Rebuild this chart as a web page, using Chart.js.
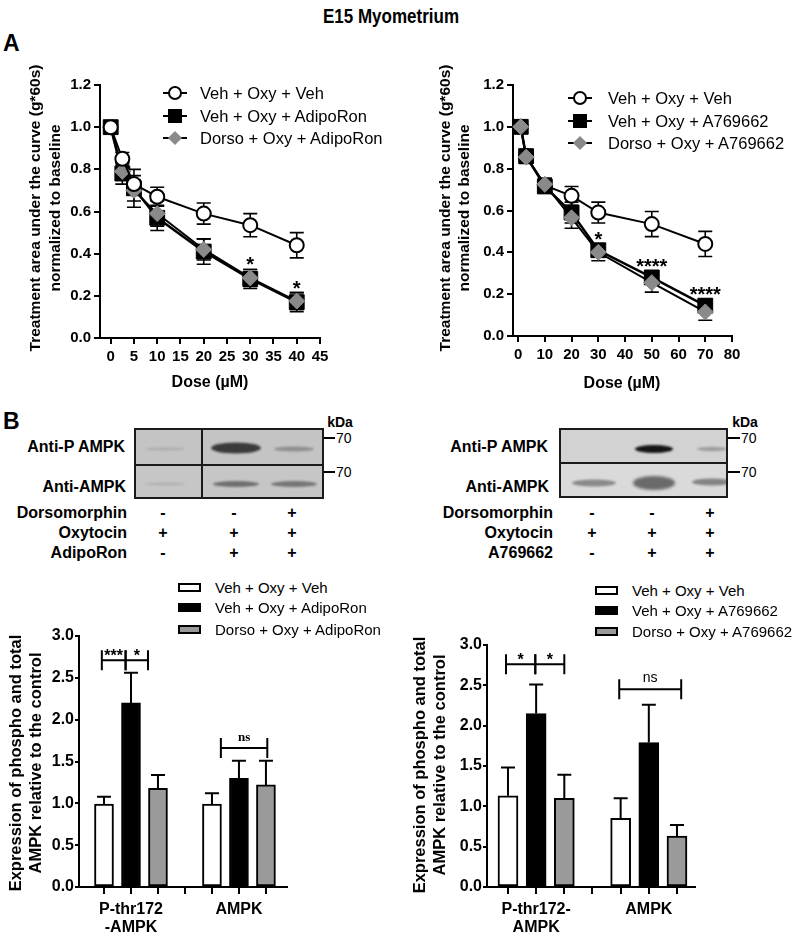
<!DOCTYPE html>
<html><head><meta charset="utf-8">
<script src="https://cdn.jsdelivr.net/npm/chart.js@4.4.1/dist/chart.umd.min.js"></script>
<style>
html,body{margin:0;padding:0;background:#fff;}
#fig{position:relative;width:800px;height:940px;overflow:hidden;font-family:"Liberation Sans",Arial,sans-serif;color:#000;}
.t{position:absolute;white-space:nowrap;line-height:1;}
canvas{position:absolute;}
.blot{position:absolute;box-sizing:border-box;overflow:hidden;border:2px solid #1a1a1a;}
.band{position:absolute;border-radius:50%;transform:translate(-50%,-50%);}
.mk{position:absolute;box-sizing:border-box;}
</style></head><body><div id="fig">
<canvas id="lineAdipo" width="340" height="335" style="left:0px;top:60px"></canvas>
<canvas id="lineA76" width="345" height="335" style="left:400px;top:60px"></canvas>
<canvas id="barAdipo" width="300" height="340" style="left:0px;top:600px"></canvas>
<canvas id="barA76" width="310" height="340" style="left:400px;top:600px"></canvas>
</div>
<script>
// ================= DATA =================
// Panel A left: AdipoRon dose response
const dosesAdipo = [0, 2.5, 5, 10, 20, 30, 40];
const aucVehAdipo = [1.0, 0.85, 0.73, 0.67, 0.59, 0.535, 0.44];
const aucVehAdipoErr = [0, 0.03, 0.04, 0.045, 0.05, 0.055, 0.06];
const aucAdipo = [1.0, 0.78, 0.71, 0.57, 0.41, 0.28, 0.17];
const aucAdipoErr = [0, 0.05, 0.09, 0.06, 0.06, 0.045, 0.045];
const aucDorsoAdipo = [1.0, 0.79, 0.70, 0.59, 0.42, 0.285, 0.175];
const aucDorsoAdipoErr = [0, 0.04, 0.05, 0.06, 0.05, 0.04, 0.04];
const starsAdipo = ['', '', '', '', '', '*', '*'];
const doseTicksAdipo = [0, 5, 10, 15, 20, 25, 30, 35, 40, 45];

// Panel A right: A769662 dose response
const dosesA76 = [1, 3, 10, 20, 30, 50, 70];
const aucVehA76 = [1.0, 0.86, 0.72, 0.67, 0.59, 0.535, 0.44];
const aucVehA76Err = [0, 0.02, 0.03, 0.045, 0.05, 0.06, 0.06];
const aucA76 = [1.0, 0.86, 0.715, 0.59, 0.41, 0.28, 0.145];
const aucA76Err = [0, 0.03, 0.03, 0.05, 0.03, 0.03, 0.03];
const aucDorsoA76 = [1.0, 0.855, 0.725, 0.565, 0.40, 0.255, 0.115];
const aucDorsoA76Err = [0, 0.03, 0.03, 0.05, 0.04, 0.045, 0.04];
const starsA76 = ['', '', '', '', '*', '****', '****'];
const doseTicksA76 = [0, 10, 20, 30, 40, 50, 60, 70, 80];

const aucTicks = [0, 0.2, 0.4, 0.6, 0.8, 1.0, 1.2];

// Panel B bar charts
const groupsAdipo = [['P-thr172', '-AMPK'], ['AMPK']];
const exprVehAdipo = [0.99, 0.99];
const exprVehAdipoErr = [0.09, 0.13];
const exprAdipo = [2.20, 1.30];
const exprAdipoErr = [0.36, 0.21];
const exprDorsoAdipo = [1.18, 1.22];
const exprDorsoAdipoErr = [0.16, 0.29];
const sigAdipo = [
  {from: 0.92, to: 1.80, v: 2.71, label: '***'},
  {from: 1.80, to: 2.63, v: 2.71, label: '*'},
  {from: 5.33, to: 7.05, v: 1.66, label: 'ns'}
];

const groupsA76 = [['P-thr172-', 'AMPK'], ['AMPK']];
const exprVehA76 = [1.13, 0.85];
const exprVehA76Err = [0.35, 0.25];
const exprA76 = [2.15, 1.79];
const exprA76Err = [0.36, 0.47];
const exprDorsoA76 = [1.10, 0.63];
const exprDorsoA76Err = [0.29, 0.14];
const sigA76 = [
  {from: 0.93, to: 1.97, v: 2.76, label: '*'},
  {from: 1.97, to: 3.00, v: 2.76, label: '*'},
  {from: 4.95, to: 7.15, v: 2.45, label: 'ns'}
];
const exprTicks = [0, 0.5, 1.0, 1.5, 2.0, 2.5, 3.0];
const barSlots = [1, 2, 3, 4, 5, 6, 7];

// ================= HTML TEXT =================
const fig = document.getElementById('fig');
function T(x, y, s, o = {}) {
  const d = document.createElement('div');
  d.className = 't';
  d.textContent = s;
  d.style.left = x + 'px';
  d.style.top = y + 'px';
  d.style.fontSize = (o.size || 14) + 'px';
  d.style.fontWeight = o.bold ? 'bold' : 'normal';
  if (o.family) d.style.fontFamily = o.family;
  const ax = o.align === 'right' ? '-100%' : (o.align === 'left' ? '0' : '-50%');
  d.style.transform = `translate(${ax},-50%)` + (o.rot ? ` rotate(${o.rot}deg)` : '') + (o.sx ? ` scaleX(${o.sx})` : '');
  fig.appendChild(d);
  return d;
}
function box(x, y, w, h, css) {
  const d = document.createElement('div');
  d.className = 'mk';
  d.style.left = x + 'px'; d.style.top = y + 'px';
  d.style.width = w + 'px'; d.style.height = h + 'px';
  Object.assign(d.style, css || {});
  fig.appendChild(d);
  return d;
}

T(391, 16, 'E15 Myometrium', {size: 20, bold: true, sx: 0.85});
T(3, 43, 'A', {size: 23, bold: true, align: 'left'});
T(3, 421, 'B', {size: 23, bold: true, align: 'left'});

// axis titles, panel A
T(35, 208, 'Treatment area under the curve (g*60s)', {size: 15.5, bold: true, rot: -90});
T(55, 208, 'normalized to baseline', {size: 15.5, bold: true, rot: -90});
T(445, 208, 'Treatment area under the curve (g*60s)', {size: 15.5, bold: true, rot: -90});
T(464, 208, 'normalized to baseline', {size: 15.5, bold: true, rot: -90});
T(210, 382, 'Dose (µM)', {size: 16, bold: true});
T(622, 383, 'Dose (µM)', {size: 16, bold: true});

// line legends
function lineLegend(cx, y, kind, text, tx) {
  box(cx - 12, y - 1, 24, 2, {background: '#000'});
  if (kind === 'circle') box(cx - 7, y - 7, 14, 14, {background: '#fff', border: '2px solid #000', borderRadius: '50%'});
  if (kind === 'square') box(cx - 7, y - 7, 14, 14, {background: '#000'});
  if (kind === 'diamond') box(cx - 5, y - 5, 10, 10, {background: '#8a8a8a', transform: 'rotate(45deg)'});
  T(tx, y, text, {size: 16.5, align: 'left'});
}
lineLegend(175, 93, 'circle', 'Veh + Oxy + Veh', 200);
lineLegend(175, 116, 'square', 'Veh + Oxy + AdipoRon', 200);
lineLegend(175, 138, 'diamond', 'Dorso + Oxy + AdipoRon', 200);
lineLegend(580, 98, 'circle', 'Veh + Oxy + Veh', 608);
lineLegend(580, 121, 'square', 'Veh + Oxy + A769662', 608);
lineLegend(580, 143, 'diamond', 'Dorso + Oxy + A769662', 608);

// bar legends
function barLegend(x, y, fill, text, tx) {
  box(x, y - 4, 23, 9, {background: fill, border: '2px solid #000'});
  T(tx, y, text, {size: 15, align: 'left'});
}
barLegend(178, 587, '#fff', 'Veh + Oxy + Veh', 215);
barLegend(178, 607, '#000', 'Veh + Oxy + AdipoRon', 215);
barLegend(178, 629, '#9a9a9a', 'Dorso + Oxy + AdipoRon', 215);
barLegend(595, 590, '#fff', 'Veh + Oxy + Veh', 632);
barLegend(595, 610, '#000', 'Veh + Oxy + A769662', 632);
barLegend(595, 631, '#9a9a9a', 'Dorso + Oxy + A769662', 632);

// bar y titles
T(15, 763, 'Expression of phospho and total', {size: 16.5, bold: true, rot: -90});
T(35, 763, 'AMPK relative to the control', {size: 16.5, bold: true, rot: -90});
T(419, 765, 'Expression of phospho and total', {size: 16.5, bold: true, rot: -90});
T(439, 765, 'AMPK relative to the control', {size: 16.5, bold: true, rot: -90});

// ================= WESTERN BLOTS (illustrative images) =================
function blotPanel(x, y, w, h, bg, bands) {
  const p = document.createElement('div');
  p.className = 'blot';
  Object.assign(p.style, {left: x + 'px', top: y + 'px', width: w + 'px', height: h + 'px', background: bg});
  bands.forEach(b => {
    const d = document.createElement('div');
    d.className = 'band';
    Object.assign(d.style, {left: b[0] + 'px', top: b[1] + 'px', width: b[2] + 'px', height: b[3] + 'px', background: b[4], filter: `blur(${b[5] || 1.2}px)`});
    p.appendChild(d);
  });
  fig.appendChild(p);
}
// left blot
blotPanel(134, 428, 190, 38, '#c4c4c4', [[29, 19, 40, 3, '#ababab', 1], [100, 18, 50, 11, '#3a3a3a', 1.3], [158, 19, 40, 5, '#8f8f8f', 1.2]]);
blotPanel(134, 464, 190, 35, '#c6c6c6', [[29, 18, 40, 3, '#b0b0b0', 1], [100, 18, 46, 6, '#6e6e6e', 1.2], [158, 18, 46, 6, '#757575', 1.2]]);
box(201, 428, 2, 71, {background: '#1a1a1a'});
// right blot
blotPanel(559, 428, 169, 36, '#d2d2d2', [[93, 19, 38, 8, '#151515', 1.2], [151, 19, 30, 4, '#9c9c9c', 1.2]]);
blotPanel(559, 462, 169, 36, '#dadada', [[33, 19, 44, 7, '#8a8a8a', 1.3], [93, 19, 42, 14, '#6a6a6a', 1.6], [151, 18, 40, 7, '#848484', 1.3]]);

// blot labels
T(125, 447, 'Anti-P AMPK', {size: 16, bold: true, align: 'right'});
T(126, 487, 'Anti-AMPK', {size: 16, bold: true, align: 'right'});
T(340, 422, 'kDa', {size: 14, bold: true});
box(324, 437, 11, 1.5, {background: '#000'});
box(324, 471, 11, 1.5, {background: '#000'});
T(336, 438, '70', {size: 14, align: 'left'});
T(336, 472, '70', {size: 14, align: 'left'});
T(548, 447, 'Anti-P AMPK', {size: 16, bold: true, align: 'right'});
T(549, 487, 'Anti-AMPK', {size: 16, bold: true, align: 'right'});
T(745, 422, 'kDa', {size: 14, bold: true});
box(728, 437, 12, 1.5, {background: '#000'});
box(728, 471, 12, 1.5, {background: '#000'});
T(741, 438, '70', {size: 14, align: 'left'});
T(741, 472, '70', {size: 14, align: 'left'});

const treatRowsAdipo = [['Dorsomorphin', ['-', '-', '+']], ['Oxytocin', ['+', '+', '+']], ['AdipoRon', ['-', '+', '+']]];
const treatRowsA76 = [['Dorsomorphin', ['-', '-', '+']], ['Oxytocin', ['+', '+', '+']], ['A769662', ['-', '+', '+']]];
const rowY = [513, 533, 553];
treatRowsAdipo.forEach((r, i) => {
  T(127, rowY[i], r[0], {size: 16, bold: true, align: 'right'});
  [163, 234, 292].forEach((x, j) => T(x, rowY[i], r[1][j], {size: 16, bold: true}));
});
treatRowsA76.forEach((r, i) => {
  T(553, rowY[i], r[0], {size: 16, bold: true, align: 'right'});
  [592, 652, 710].forEach((x, j) => T(x, rowY[i], r[1][j], {size: 16, bold: true}));
});

// ================= CHARTS =================
const tickFont = (s) => ({family: '"Liberation Sans", Arial, sans-serif', weight: 'bold', size: s});

const errorBarPlugin = {
  id: 'errbars',
  beforeDatasetsDraw(chart) {
    const ctx = chart.ctx, ys = chart.scales.y;
    ctx.save();
    ctx.strokeStyle = '#000'; ctx.lineWidth = 1.6;
    chart.data.datasets.forEach((ds, di) => {
      const meta = chart.getDatasetMeta(di);
      meta.data.forEach((pt, i) => {
        const v = ds.data[i].y, e = ds.err[i];
        if (!e) return;
        const y1 = ys.getPixelForValue(v - e), y2 = ys.getPixelForValue(v + e);
        ctx.beginPath();
        ctx.moveTo(pt.x, y1); ctx.lineTo(pt.x, y2);
        ctx.moveTo(pt.x - 7, y1); ctx.lineTo(pt.x + 7, y1);
        ctx.moveTo(pt.x - 7, y2); ctx.lineTo(pt.x + 7, y2);
        ctx.stroke();
      });
    });
    ctx.restore();
  }
};

function fixSize(w) { return (s) => { s.width = w; }; }
function fixHeight(h) { return (s) => { s.height = h; }; }

function lineChart(id, doses, series, stars, xTicks, xMin, xMax, geom) {
  const datasets = series.map(s => ({
    data: doses.map((d, i) => ({x: d, y: s.vals[i]})),
    err: s.err,
    showLine: true,
    borderColor: '#000',
    borderWidth: s.lw,
    backgroundColor: s.fill,
    pointBackgroundColor: s.fill,
    pointBorderColor: s.stroke,
    pointBorderWidth: s.pbw,
    pointStyle: s.style,
    pointRadius: s.r,
    pointHoverRadius: s.r,
    order: s.order,
    clip: false
  }));
  return new Chart(document.getElementById(id), {
    type: 'scatter',
    data: {datasets},
    plugins: [errorBarPlugin, {
      id: 'stars',
      afterDatasetsDraw(chart) {
        const ctx = chart.ctx, ys = chart.scales.y, xs = chart.scales.x;
        ctx.save();
        ctx.fillStyle = '#000';
        ctx.font = 'bold 20px "Liberation Sans", Arial, sans-serif';
        ctx.textAlign = 'center'; ctx.textBaseline = 'alphabetic';
        stars.forEach((s, i) => {
          if (!s) return;
          const top = Math.max(series[1].vals[i] + series[1].err[i], series[2].vals[i] + series[2].err[i]);
          const yc = ys.getPixelForValue(top) - 10;
          ctx.fillText(s, xs.getPixelForValue(doses[i]), yc + 12);
        });
        ctx.restore();
      }
    }],
    options: {
      responsive: false, animation: false, devicePixelRatio: 1,
      layout: {padding: {top: geom.top, right: geom.right, left: 0, bottom: 0}},
      plugins: {legend: {display: false}, tooltip: {enabled: false}},
      scales: {
        x: {
          type: 'linear', min: xMin, max: xMax,
          afterBuildTicks: (s) => { s.ticks = xTicks.map(v => ({value: v})); },
          afterFit: fixHeight(geom.xh),
          grid: {display: true, drawOnChartArea: false, drawTicks: true, tickLength: 6, color: '#000', lineWidth: 2},
          border: {display: true, color: '#000', width: 2},
          ticks: {color: '#000', font: tickFont(15), padding: 4, maxRotation: 0, autoSkip: false, callback: v => String(v)}
        },
        y: {
          type: 'linear', min: 0, max: 1.2,
          afterBuildTicks: (s) => { s.ticks = aucTicks.map(v => ({value: v})); },
          afterFit: fixSize(geom.yw),
          grid: {display: true, drawOnChartArea: false, drawTicks: true, tickLength: 6, color: '#000', lineWidth: 2},
          border: {display: true, color: '#000', width: 2},
          ticks: {color: '#000', font: tickFont(15), padding: 3, callback: v => v.toFixed(1)}
        }
      }
    }
  });
}

lineChart('lineAdipo', dosesAdipo, [
  {vals: aucVehAdipo, err: aucVehAdipoErr, style: 'circle', r: 7, fill: '#fff', stroke: '#000', pbw: 2, lw: 2, order: 1},
  {vals: aucAdipo, err: aucAdipoErr, style: 'rect', r: 10.5, fill: '#000', stroke: '#000', pbw: 1, lw: 2.5, order: 3},
  {vals: aucDorsoAdipo, err: aucDorsoAdipoErr, style: 'rectRot', r: 8, fill: '#8a8a8a', stroke: '#8a8a8a', pbw: 1, lw: 2, order: 2}
], starsAdipo, doseTicksAdipo, -2.3, 45, {top: 25, right: 20, yw: 100, xh: 57});

lineChart('lineA76', dosesA76, [
  {vals: aucVehA76, err: aucVehA76Err, style: 'circle', r: 7, fill: '#fff', stroke: '#000', pbw: 2, lw: 2, order: 3},
  {vals: aucA76, err: aucA76Err, style: 'rect', r: 10.5, fill: '#000', stroke: '#000', pbw: 1, lw: 2.5, order: 2},
  {vals: aucDorsoA76, err: aucDorsoA76Err, style: 'rectRot', r: 8, fill: '#8a8a8a', stroke: '#8a8a8a', pbw: 1, lw: 2, order: 1}
], starsA76, doseTicksA76, -1.9, 80, {top: 25, right: 13, yw: 113, xh: 59});

function barChart(id, groups, series, sig, xMin, xMax, barW, nsFont, geom) {
  const datasets = series.map((s, si) => ({
    data: s.vals.map((v, g) => ({x: g * 4 + si + 1, y: v})),
    err: s.err,
    backgroundColor: s.fill,
    borderColor: '#000',
    borderWidth: 2,
    borderSkipped: false,
    barThickness: barW,
    grouped: false
  }));
  const labelAt = {};
  groups.forEach((g, gi) => { labelAt[gi * 4 + 2] = g; });
  return new Chart(document.getElementById(id), {
    type: 'bar',
    data: {datasets},
    plugins: [{
      id: 'barerr',
      afterDatasetsDraw(chart) {
        const ctx = chart.ctx, ys = chart.scales.y, xs = chart.scales.x;
        ctx.save();
        ctx.strokeStyle = '#000'; ctx.lineWidth = 2;
        chart.data.datasets.forEach((ds, di) => {
          const meta = chart.getDatasetMeta(di);
          meta.data.forEach((b, i) => {
            const v = ds.data[i].y, e = ds.err[i];
            const y1 = ys.getPixelForValue(v), y2 = ys.getPixelForValue(v + e);
            ctx.beginPath();
            ctx.moveTo(b.x, y1); ctx.lineTo(b.x, y2);
            ctx.moveTo(b.x - 7, y2); ctx.lineTo(b.x + 7, y2);
            ctx.stroke();
          });
        });
        // significance brackets
        ctx.lineWidth = 2;
        sig.forEach(s => {
          const xa = xs.getPixelForValue(s.from), xb = xs.getPixelForValue(s.to), y = ys.getPixelForValue(s.v);
          ctx.beginPath();
          ctx.moveTo(xa, y); ctx.lineTo(xb, y);
          ctx.moveTo(xa, y - 10); ctx.lineTo(xa, y + 10);
          ctx.moveTo(xb, y - 10); ctx.lineTo(xb, y + 10);
          ctx.stroke();
          ctx.fillStyle = '#000';
          ctx.textAlign = 'center';
          if (s.label === 'ns') {
            ctx.font = nsFont;
            ctx.textBaseline = 'alphabetic';
            ctx.fillText('ns', (xa + xb) / 2, y - 7);
          } else {
            ctx.font = 'bold 16px "Liberation Sans", Arial, sans-serif';
            ctx.textBaseline = 'alphabetic';
            ctx.fillText(s.label, (xa + xb) / 2, y + 1);
          }
        });
        ctx.restore();
      }
    }],
    options: {
      responsive: false, animation: false, devicePixelRatio: 1,
      layout: {padding: {top: geom.top, right: geom.right, left: 0, bottom: 0}},
      plugins: {legend: {display: false}, tooltip: {enabled: false}},
      scales: {
        x: {
          type: 'linear', min: xMin, max: xMax, offset: false,
          afterBuildTicks: (s) => { s.ticks = barSlots.map(v => ({value: v})); },
          afterFit: fixHeight(geom.xh),
          grid: {display: true, offset: false, drawOnChartArea: false, drawTicks: true, tickLength: 7, color: '#000', lineWidth: 2},
          border: {display: true, color: '#000', width: 2},
          ticks: {color: '#000', font: {...tickFont(16), lineHeight: 1.15}, padding: 6, maxRotation: 0, autoSkip: false,
                  callback: v => labelAt[v] || ''}
        },
        y: {
          type: 'linear', min: 0, max: 3,
          afterBuildTicks: (s) => { s.ticks = exprTicks.map(v => ({value: v})); },
          afterFit: fixSize(geom.yw),
          grid: {display: true, drawOnChartArea: false, drawTicks: true, tickLength: 4, color: '#000', lineWidth: 2},
          border: {display: true, color: '#000', width: 2},
          ticks: {color: '#000', font: tickFont(16), padding: 1, callback: v => v.toFixed(1)}
        }
      }
    }
  });
}

barChart('barAdipo', groupsAdipo, [
  {vals: exprVehAdipo, err: exprVehAdipoErr, fill: '#fff'},
  {vals: exprAdipo, err: exprAdipoErr, fill: '#000'},
  {vals: exprDorsoAdipo, err: exprDorsoAdipoErr, fill: '#9a9a9a'}
], sigAdipo, 0.074, 7.78, 19, 'bold 13px "Liberation Serif", serif', {top: 36, right: 13, yw: 79, xh: 53});

barChart('barA76', groupsA76, [
  {vals: exprVehA76, err: exprVehA76Err, fill: '#fff'},
  {vals: exprA76, err: exprA76Err, fill: '#000'},
  {vals: exprDorsoA76, err: exprDorsoA76Err, fill: '#9a9a9a'}
], sigA76, 0.255, 7.64, 20, '14px "Liberation Sans", Arial, sans-serif', {top: 45, right: 15, yw: 87, xh: 53});
</script>
</body></html>
